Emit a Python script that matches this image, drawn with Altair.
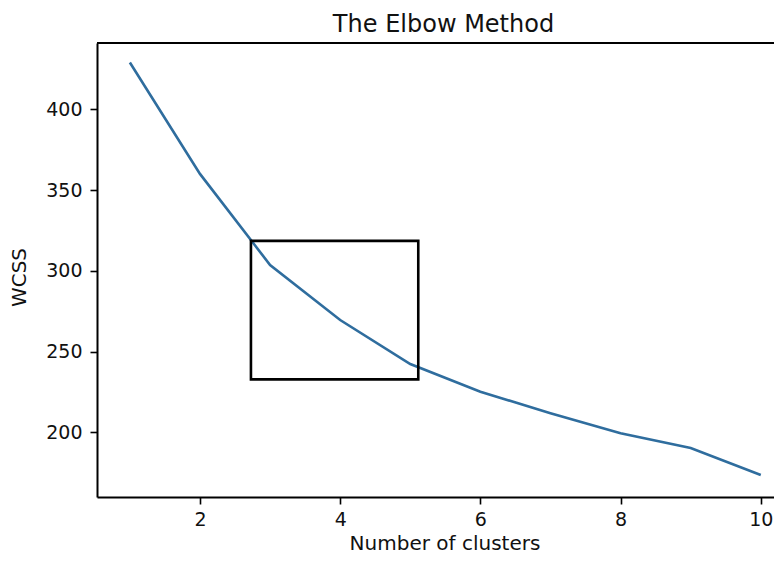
import altair as alt
import pandas as pd

clusters = [1, 2, 3, 4, 5, 6, 7, 8, 9, 10]
wcss = [429.0, 360.0, 303.6, 269.5, 242.3, 225.1, 211.8, 199.4, 190.3, 173.6]

box_x = [2.727]
box_x2 = [5.114]
box_y = [318.5]
box_y2 = [232.8]

x_ticks = [2, 4, 6, 8, 10]
y_ticks = [200, 250, 300, 350, 400]

title_text = ["The Elbow Method"]

df = pd.DataFrame({"clusters": clusters, "wcss": wcss})
box = pd.DataFrame({"x": box_x, "x2": box_x2, "y": box_y, "y2": box_y2})
tdf = pd.DataFrame({"t": title_text})

W = 677
H = 454
FONT = "DejaVu Sans"

xscale = alt.Scale(domain=[0.531, 0.531 + W / 70.1], nice=False, zero=False)
yscale = alt.Scale(domain=[159.94, 441.05], nice=False, zero=False)

xaxis = alt.Axis(
    values=x_ticks, format="d", title="Number of clusters", grid=False,
    domainColor="#000000", domainWidth=2, tickColor="#000000", tickWidth=1.6,
    tickSize=7, labelFontSize=19, labelFont=FONT, labelColor="#111111",
    labelPadding=6, titleFontSize=20, titleFont=FONT, titleFontWeight="normal",
    titleColor="#111111", titleX=347.5, titleY=52, titleBaseline="alphabetic",
    titleAnchor="middle", titleAlign="center",
)
yaxis = alt.Axis(
    values=y_ticks, format="d", title="WCSS", grid=False,
    domainColor="#000000", domainWidth=2, tickColor="#000000", tickWidth=1.6,
    tickSize=7, labelFontSize=19, labelFont=FONT, labelColor="#111111",
    labelPadding=8, titleFontSize=20, titleFont=FONT, titleFontWeight="normal",
    titleColor="#111111", titleX=-78, titleY=234, titleAngle=270,
    titleBaseline="middle", titleAlign="center", titleAnchor="middle",
)

line = alt.Chart(df).mark_line(color="#2f6d9e", strokeWidth=2.6).encode(
    x=alt.X("clusters:Q", scale=xscale, axis=xaxis),
    y=alt.Y("wcss:Q", scale=yscale, axis=yaxis),
)

rect = alt.Chart(box).mark_rect(fill=None, stroke="#000000", strokeWidth=2.6, fillOpacity=0).encode(
    x=alt.X("x:Q", scale=xscale),
    x2="x2:Q",
    y=alt.Y("y:Q", scale=yscale),
    y2="y2:Q",
)

top_rule = alt.Chart(df).mark_rule(color="#000000", strokeWidth=2).encode(
    x=alt.value(0), x2=alt.value(W), y=alt.value(0)
)

title = alt.Chart(tdf).mark_text(
    font=FONT, fontSize=24, color="#111111", align="center", baseline="alphabetic"
).encode(text="t:N", x=alt.value(346.5), y=alt.value(-11))

chart = alt.layer(line, rect, top_rule, title).properties(
    width=W,
    height=H,
    autosize=alt.AutoSizeParams(type="none"),
    padding={"left": 89, "top": 35, "right": 0, "bottom": 56},
    background="white",
).configure_view(stroke=None)

chart.save("out.html", embed_options={"renderer": "svg", "actions": False})
